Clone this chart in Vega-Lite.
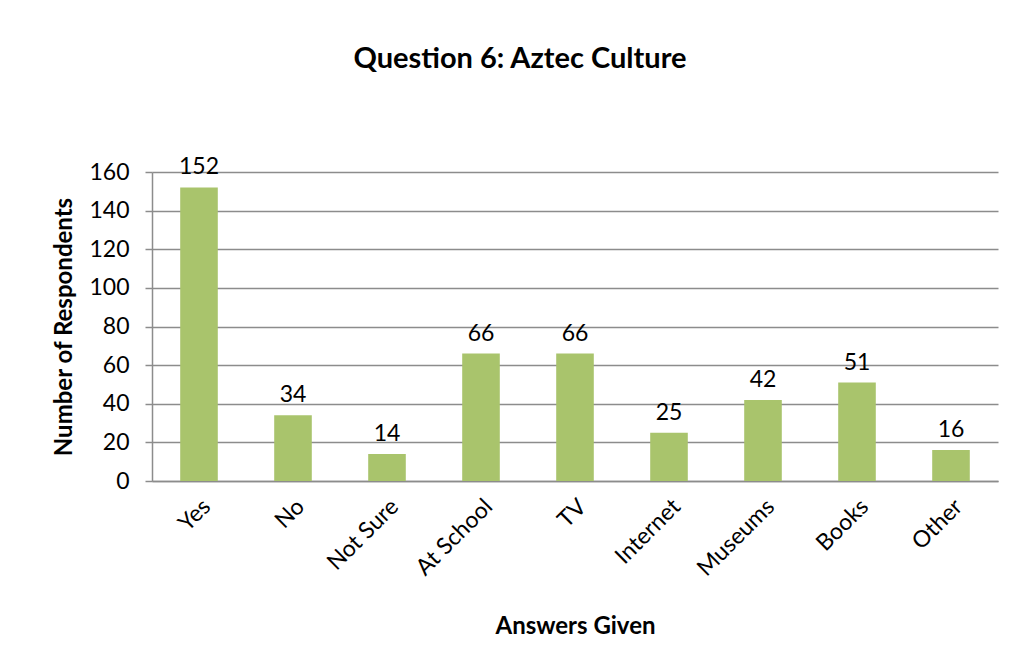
{
  "$schema": "https://vega.github.io/schema/vega-lite/v6.json",
  "width": 846,
  "height": 309,
  "autosize": {"type": "none"},
  "padding": {"left": 152, "top": 172, "right": 21, "bottom": 187},
  "background": "white",
  "title": {
    "text": "Question 6: Aztec Culture",
    "fontSize": 29,
    "fontWeight": "bold",
    "font": "Lato",
    "color": "black",
    "dx": -55,
    "offset": 82
  },
  "data": {
    "values": [
      {"answer": "Yes", "count": 152},
      {"answer": "No", "count": 34},
      {"answer": "Not Sure", "count": 14},
      {"answer": "At School", "count": 66},
      {"answer": "TV", "count": 66},
      {"answer": "Internet", "count": 25},
      {"answer": "Museums", "count": 42},
      {"answer": "Books", "count": 51},
      {"answer": "Other", "count": 16}
    ]
  },
  "encoding": {
    "x": {
      "field": "answer",
      "type": "nominal",
      "sort": null,
      "scale": {"paddingInner": 0.6, "paddingOuter": 0.3},
      "axis": {
        "title": "Answers Given",
        "labelAngle": -45,
        "labelFontSize": 23,
        "labelFont": "Lato",
        "labelColor": "black",
        "labelPadding": 14,
        "ticks": false,
        "domainColor": "#8c8c8c",
        "domainWidth": 1.5,
        "titleFontSize": 24,
        "titleFont": "Lato",
        "titleFontWeight": "bold",
        "titleColor": "black",
        "titlePadding": 34
      }
    },
    "y": {
      "field": "count",
      "type": "quantitative",
      "scale": {"domain": [0, 160], "nice": false},
      "axis": {
        "title": "Number of Respondents",
        "values": [0, 20, 40, 60, 80, 100, 120, 140, 160],
        "tickSize": 7,
        "tickColor": "#8c8c8c",
        "tickWidth": 1.5,
        "domainColor": "#8c8c8c",
        "domainWidth": 1.5,
        "gridColor": "#8c8c8c",
        "gridWidth": 1.5,
        "labelFontSize": 23,
        "labelFont": "Lato",
        "labelColor": "black",
        "labelPadding": 16,
        "titleFontSize": 24,
        "titleFont": "Lato",
        "titleFontWeight": "bold",
        "titleColor": "black",
        "titlePadding": 12
      }
    }
  },
  "layer": [
    {"mark": {"type": "bar", "color": "#a9c46c"}},
    {
      "mark": {"type": "text", "dy": -8, "baseline": "bottom", "fontSize": 23, "font": "Lato", "color": "black"},
      "encoding": {"text": {"field": "count", "type": "quantitative"}}
    }
  ],
  "config": {"view": {"stroke": null}}
}
